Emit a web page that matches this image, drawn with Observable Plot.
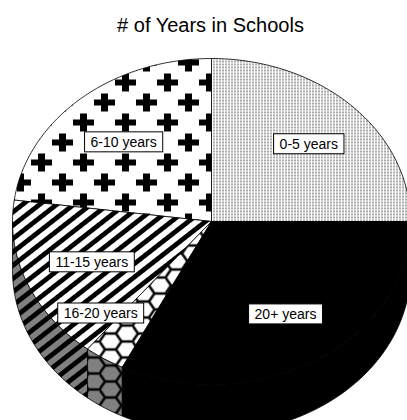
<!DOCTYPE html>
<html><head><meta charset="utf-8">
<script src="https://cdn.jsdelivr.net/npm/d3@7"></script>
<script src="https://cdn.jsdelivr.net/npm/@observablehq/plot@0.6"></script>
<style>
html,body{margin:0;padding:0;background:#fff;overflow:hidden;}
body{font-family:"Liberation Sans",Arial,sans-serif;width:407px;height:420px;}
#title{box-sizing:border-box;height:45px;width:407px;padding-top:14px;text-align:center;font-size:20px;line-height:22px;color:#000;padding-left:14px;}
#chart svg{display:block;}
</style></head>
<body>
<svg width="0" height="0" style="position:absolute;left:0;top:0">
<defs>
  <pattern id="dots" patternUnits="userSpaceOnUse" width="3" height="3">
    <rect width="3" height="3" fill="#fff"/>
    <rect width="1" height="2" fill="#555"/>
  </pattern>
  <pattern id="crosses" patternUnits="userSpaceOnUse" x="30.5" y="27" width="42" height="40">
    <rect width="42" height="40" fill="#fff"/>
    <rect x="0" y="7" width="21" height="6" fill="#000"/>
    <rect x="7" y="1" width="7" height="18" fill="#000"/>
    <rect x="21" y="27" width="21" height="6" fill="#000"/>
    <rect x="28" y="21" width="7" height="18" fill="#000"/>
  </pattern>
  <pattern id="stripes" patternUnits="userSpaceOnUse" width="10.5" height="10" patternTransform="rotate(52)">
    <rect width="10.5" height="10" fill="#fff"/>
    <rect width="4.8" height="10" fill="#000"/>
  </pattern>
  <pattern id="stripesGrey" patternUnits="userSpaceOnUse" width="10.5" height="10" patternTransform="rotate(52)">
    <rect width="10.5" height="10" fill="#808080"/>
    <rect width="4.8" height="10" fill="#000"/>
  </pattern>
  <pattern id="hexes" patternUnits="userSpaceOnUse" width="33" height="16">
    <rect width="33" height="16" fill="#fff"/>
    <path d="M0,8 L5.5,0 L16.5,0 L22,8 L16.5,16 L5.5,16 Z M22,8 L33,8" fill="none" stroke="#000" stroke-width="2.5"/>
  </pattern>
  <pattern id="hexesGrey" patternUnits="userSpaceOnUse" width="33" height="16">
    <rect width="33" height="16" fill="#808080"/>
    <path d="M0,8 L5.5,0 L16.5,0 L22,8 L16.5,16 L5.5,16 Z M22,8 L33,8" fill="none" stroke="#000" stroke-width="2.5"/>
  </pattern>
</defs>
</svg>
<div id="title"># of Years in Schools</div>
<div id="chart"></div>
<script>
// ---- data ----
const categories = ["0-5 years", "6-10 years", "11-15 years", "16-20 years", "20+ years"];
const values = [25, 22.9, 16.4, 3.3, 32.4];

// ---- styles ----
const topFills = ["url(#dots)", "url(#crosses)", "url(#stripes)", "url(#hexes)", "#000"];
const sideFills = ["#808080", "#808080", "url(#stripesGrey)", "url(#hexesGrey)", "#000"];
const labelDx = [3, 0, 4, -39, 4];
const labelDy = [0, 3, 0, 0, 0];
const DEPTH = 0.3;   // 3D wall thickness in y units
const LABEL_R = 0.67;

const total = d3.sum(values);
let acc = 0;
const slices = categories.map((c, i) => {
  const a0 = acc / total * 2 * Math.PI;
  acc += values[i];
  const a1 = acc / total * 2 * Math.PI;
  return {c, i, a0, a1};
});

function arc(a0, a1, off) {
  const n = Math.max(2, Math.ceil((a1 - a0) / (2 * Math.PI) * 180));
  return d3.range(n + 1).map(j => {
    const t = a0 + (a1 - a0) * j / n;
    return {x: Math.cos(t), y: -Math.sin(t) + off};
  });
}

const marks = [];
// side walls (front half only)
slices.forEach(s => {
  const s0 = Math.max(s.a0, Math.PI), s1 = Math.min(s.a1, 2 * Math.PI);
  if (s0 < s1) {
    const topArc = arc(s0, s1, 0);
    const pts = [...topArc, ...arc(s0, s1, DEPTH).reverse(), topArc[0]];
    marks.push(Plot.line(pts, {x: "x", y: "y", fill: sideFills[s.i], stroke: "#000", strokeWidth: 0.8, curve: "linear"}));
  }
});
// top faces
slices.forEach(s => {
  const pts = [{x: 0, y: 0}, ...arc(s.a0, s.a1, 0), {x: 0, y: 0}];
  marks.push(Plot.line(pts, {x: "x", y: "y", fill: topFills[s.i], stroke: "#000", strokeWidth: 0.8, curve: "linear"}));
});
// labels
const labels = slices.map(s => {
  const m = (s.a0 + s.a1) / 2;
  return {x: LABEL_R * Math.cos(m), y: -LABEL_R * Math.sin(m), text: s.c, dx: labelDx[s.i], dy: labelDy[s.i]};
});
labels.forEach(l => {
  marks.push(Plot.text([l], {x: "x", y: "y", text: "text", dx: l.dx, dy: l.dy, fontSize: 14, fill: "#000", fontFamily: "Liberation Sans, Arial, sans-serif"}));
});

const svg = Plot.plot({
  width: 407,
  height: 375,
  margin: 0,
  x: {domain: [-1, 1], range: [12, 410], axis: null},
  y: {domain: [-1, 1], range: [13, 339], axis: null},
  style: {background: "none", overflow: "hidden"},
  marks
});
document.getElementById("chart").append(svg);

// white boxes behind labels
svg.querySelectorAll('g[aria-label="text"] text').forEach(t => {
  const b = t.getBBox();
  const r = document.createElementNS("http://www.w3.org/2000/svg", "rect");
  r.setAttribute("x", b.x - 6);
  r.setAttribute("y", b.y - 2);
  r.setAttribute("width", b.width + 12);
  r.setAttribute("height", b.height + 4);
  r.setAttribute("fill", "#fff");
  r.setAttribute("stroke", "#000");
  r.setAttribute("stroke-width", 1);
  const tr = t.getAttribute("transform");
  if (tr) r.setAttribute("transform", tr);
  t.parentNode.insertBefore(r, t);
});
</script>
</body></html>
